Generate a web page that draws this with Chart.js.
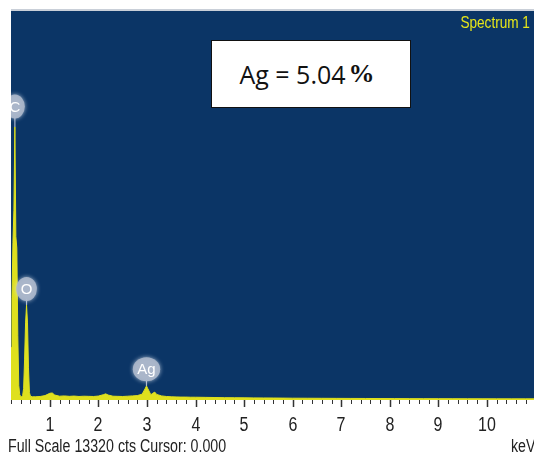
<!DOCTYPE html>
<html>
<head>
<meta charset="utf-8">
<script src="https://cdn.jsdelivr.net/npm/chart.js@4"></script>
<style>
  html, body { margin: 0; padding: 0; background: #ffffff; }
  #wrap { position: relative; width: 534px; height: 459px; overflow: hidden; background: #fff; }
  #c { position: absolute; left: 0; top: 0; }
  .narrow { font-family: "Liberation Sans", Arial, sans-serif; white-space: nowrap; }
  #spec { position: absolute; right: 4px; top: 14px; color: #e6e619; font-size: 17px; line-height: 18px;
          transform: scaleX(0.8); transform-origin: right top; }
  #box { position: absolute; left: 211px; top: 40px; width: 198px; height: 66px; border: 1.6px solid #111; background: #fff;
         display: flex; align-items: center; justify-content: center; }
  #box span.t { font-family: "Open Sans", "Noto Sans", sans-serif; font-size: 25px; color: #111; margin-left: -8px; }
  #box span.p { font-family: "Liberation Serif", "DejaVu Serif", serif; font-weight: bold; font-size: 26px; color: #111; margin-left: 3px; }
  #full { position: absolute; left: 8px; top: 436px; font-size: 18px; color: #222; line-height: 20px;
          transform: scaleX(0.79); transform-origin: left top; }
  #kev { position: absolute; left: 511px; top: 436px; font-size: 18px; color: #222; line-height: 20px;
         transform: scaleX(0.79); transform-origin: left top; }
  .tick { position: absolute; top: 414px; font-size: 20px; line-height: 20px; color: #222; width: 40px; text-align: center;
          transform: scaleX(0.8); }
  #topline { position: absolute; left: 11px; top: 9px; width: 523px; height: 2px; background: #c9cfd8; }
</style>
</head>
<body>
<div id="wrap">
  <canvas id="c" width="534" height="459"></canvas>
  <div id="topline"></div>
  <div id="spec" class="narrow">Spectrum 1</div>
  <div id="box"><span class="t">Ag = 5.04</span><span class="p">%</span></div>
  <div id="full" class="narrow">Full Scale 13320 cts Cursor: 0.000</div>
  <div id="kev" class="narrow">keV</div>
</div>
<script>
// ---- data ----
const energyKeV = [
  0.20, 0.22, 0.24, 0.26, 0.28, 0.30, 0.32, 0.34, 0.36, 0.38, 0.40, 0.42, 0.44,
  0.46, 0.48, 0.50, 0.52, 0.54, 0.56, 0.58, 0.60, 0.64,
  0.70, 0.80, 0.90, 1.00, 1.05, 1.10, 1.20, 1.30, 1.40, 1.50, 1.60, 1.70, 1.80, 1.90,
  2.00, 2.10, 2.15, 2.20, 2.30, 2.40, 2.50, 2.60, 2.70, 2.80, 2.90, 2.96, 2.99, 3.02,
  3.08, 3.12, 3.16, 3.20, 3.30, 3.40, 3.50, 3.60, 3.70, 3.80, 3.90, 4.00, 4.20, 4.40,
  4.60, 4.80, 5.00, 5.20, 5.40, 5.60, 5.80, 6.00, 6.30, 6.60, 6.90, 7.20, 7.50, 7.80,
  8.10, 8.40, 8.70, 9.00, 9.30, 9.60, 9.90, 10.20, 10.50, 10.80, 10.97
];
const counts = [
  1800, 3500, 5400, 6500, 9350, 5600, 5200, 2200, 500, 180, 120, 110, 150,
  400, 1400, 2640, 3250, 2640, 1100, 250, 130, 110,
  110, 120, 150, 230, 240, 170, 130, 140, 125, 135, 120, 130, 125, 120,
  135, 180, 210, 170, 130, 125, 120, 130, 140, 150, 200, 380, 480, 380,
  180, 230, 270, 190, 140, 120, 110, 105, 100, 100, 95, 95, 90, 85,
  80, 78, 75, 72, 70, 68, 65, 62, 60, 58, 56, 54, 52, 50,
  48, 47, 46, 45, 44, 43, 42, 41, 40, 40, 40
];
const fullScale = 13320;
const xMin = 0.2, xMax = 10.97;
const tickStep = 0.2;
const tickLabels = ["1","2","3","4","5","6","7","8","9","10"];

// element markers: name, energy (keV), label centre (cts), peak top (cts)
const markerNames  = ["C", "O", "Ag"];
const markerEnergy = [0.28, 0.52, 2.99];
const markerLabel  = [10050, 3800, 1050];
const markerPeak   = [9350, 3250, 480];

const yellow = "#dfe01e";
const navy = "#0b3566";

const bgPlugin = {
  id: "bg",
  beforeDraw(chart) {
    const { ctx, chartArea: a } = chart;
    ctx.save();
    ctx.fillStyle = navy;
    ctx.fillRect(a.left, a.top, a.right - a.left, a.bottom - a.top);
    ctx.restore();
  }
};

const overlayPlugin = {
  id: "overlay",
  afterDraw(chart) {
    const { ctx, chartArea: a } = chart;
    const xs = chart.scales.x, ys = chart.scales.y;
    ctx.save();
    // tick marks
    ctx.strokeStyle = "#333";
    const n = Math.round((10.8 - xMin) / tickStep);
    for (let i = 0; i <= n; i++) {
      const v = xMin + i * tickStep;
      const px = Math.round(xs.getPixelForValue(v)) + 0.5;
      const major = Math.abs(v - Math.round(v)) < 1e-6;
      ctx.lineWidth = major ? 1.5 : 1;
      ctx.beginPath();
      ctx.moveTo(px, a.bottom);
      ctx.lineTo(px, a.bottom + (major ? 7 : 4));
      ctx.stroke();
    }
    // element markers
    ctx.beginPath();
    ctx.rect(a.left, a.top, a.right - a.left, a.bottom - a.top);
    ctx.clip();
    ctx.font = "15px " + '"Liberation Sans", Arial, sans-serif';
    ctx.textAlign = "center";
    ctx.textBaseline = "middle";
    for (let i = 0; i < markerNames.length; i++) {
      const px = xs.getPixelForValue(markerEnergy[i]);
      const pyL = ys.getPixelForValue(markerLabel[i]);
      const pyP = ys.getPixelForValue(markerPeak[i]);
      const tw = ctx.measureText(markerNames[i]).width;
      const rx = Math.max(9, tw / 2 + 4.5), ry = 12;
      // stem
      ctx.strokeStyle = "rgba(190,200,215,0.9)";
      ctx.lineWidth = 1.2;
      ctx.beginPath();
      ctx.moveTo(px, pyL + ry - 2);
      ctx.lineTo(px, pyP);
      ctx.stroke();
      // bubble
      ctx.save();
      ctx.shadowColor = "rgba(220,228,240,0.8)";
      ctx.shadowBlur = 4;
      ctx.fillStyle = "rgba(170,182,202,0.92)";
      ctx.beginPath();
      ctx.ellipse(px, pyL, rx, ry, 0, 0, Math.PI * 2);
      ctx.fill();
      ctx.restore();
      ctx.fillStyle = "#ffffff";
      ctx.fillText(markerNames[i], px, pyL + 1);
    }
    ctx.restore();
  }
};

const chart = new Chart(document.getElementById("c"), {
  type: "line",
  data: {
    datasets: [{
      data: energyKeV.map((e, i) => ({ x: e, y: counts[i] })),
      borderColor: yellow,
      backgroundColor: yellow,
      borderWidth: 1,
      fill: "origin",
      pointRadius: 0,
      tension: 0
    }]
  },
  options: {
    responsive: false,
    animation: false,
    devicePixelRatio: 1,
    layout: { padding: { left: 11, top: 11, right: 0, bottom: 0 } },
    plugins: { legend: { display: false }, tooltip: { enabled: false } },
    scales: {
      x: {
        type: "linear",
        min: xMin,
        max: xMax,
        border: { display: false },
        grid: { display: false },
        afterFit(scale) { scale.height = 59; },
        ticks: { display: false }
      },
      y: { display: false, min: 0, max: fullScale }
    }
  },
  plugins: [bgPlugin, overlayPlugin]
});

// tick labels as HTML text, placed with the chart's own x scale
const wrap = document.getElementById("wrap");
tickLabels.forEach(t => {
  const d = document.createElement("div");
  d.className = "tick narrow";
  d.textContent = t;
  d.style.left = (chart.scales.x.getPixelForValue(Number(t)) - 20) + "px";
  wrap.appendChild(d);
});
</script>
</body>
</html>
